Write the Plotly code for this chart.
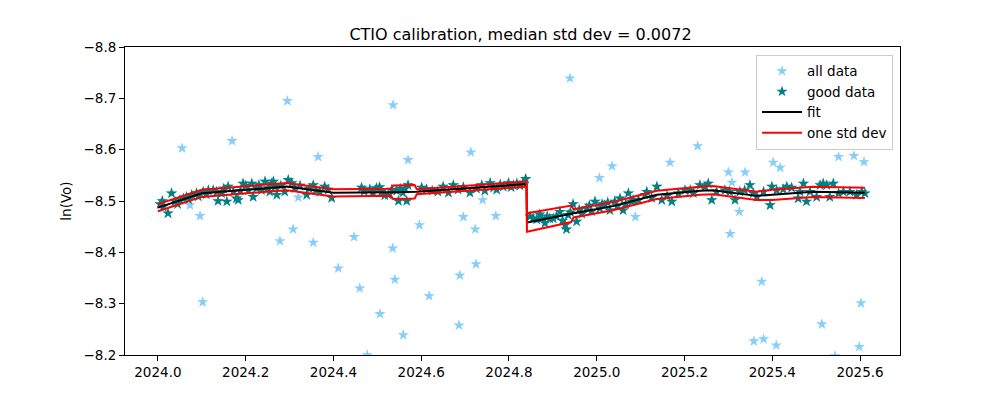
import plotly.graph_objects as go

# ---- data ----
all_x = [2024.055, 2024.169, 2024.295, 2024.536, 2024.365, 2024.570, 2024.320, 2024.073, 2024.096,
         2024.278, 2024.308, 2024.354, 2024.447, 2024.535, 2024.411, 2024.460, 2024.540, 2024.506,
         2024.559, 2024.102, 2024.477, 2024.596, 2024.713, 2024.939, 2025.006, 2025.035, 2025.167,
         2025.230, 2024.740, 2024.696, 2024.770, 2024.723, 2024.725, 2024.688, 2024.618, 2024.686,
         2025.088, 2025.300, 2025.338, 2025.308, 2025.325, 2025.304, 2025.402, 2025.418, 2025.551,
         2025.586, 2025.609, 2025.376, 2025.513, 2025.602, 2025.358, 2025.380, 2025.409, 2025.598,
         2025.543]
all_y = [-8.603, -8.617, -8.695, -8.687, -8.586, -8.580, -8.507, -8.492, -8.471,
         -8.422, -8.445, -8.419, -8.430, -8.408, -8.369, -8.330, -8.347, -8.280,
         -8.239, -8.303, -8.200, -8.453, -8.595, -8.739, -8.545, -8.568, -8.575,
         -8.607, -8.502, -8.469, -8.471, -8.445, -8.377, -8.355, -8.315, -8.258,
         -8.469, -8.556, -8.556, -8.536, -8.479, -8.436, -8.575, -8.565, -8.586,
         -8.588, -8.576, -8.343, -8.260, -8.301, -8.227, -8.231, -8.219, -8.216,
         -8.198]

good_x = [2024.005, 2024.010, 2024.012, 2024.023, 2024.031, 2024.039, 2024.045, 2024.050, 2024.058,
          2024.065, 2024.070, 2024.077, 2024.088, 2024.092, 2024.103, 2024.110, 2024.115, 2024.126,
          2024.134, 2024.137, 2024.145, 2024.150, 2024.157, 2024.160, 2024.172, 2024.179, 2024.183,
          2024.188, 2024.194, 2024.200, 2024.206, 2024.214, 2024.217, 2024.225, 2024.230, 2024.236,
          2024.244, 2024.251, 2024.255, 2024.259, 2024.263, 2024.267, 2024.271, 2024.280, 2024.289,
          2024.297, 2024.305, 2024.312, 2024.324, 2024.339, 2024.345, 2024.354, 2024.360, 2024.369,
          2024.380, 2024.388, 2024.396,
          2024.464, 2024.470, 2024.483, 2024.490, 2024.498, 2024.505, 2024.510, 2024.517, 2024.525,
          2024.533, 2024.544, 2024.548, 2024.552, 2024.558, 2024.563, 2024.567, 2024.570,
          2024.601, 2024.612, 2024.625, 2024.638, 2024.650, 2024.662, 2024.673, 2024.684, 2024.696,
          2024.711, 2024.726, 2024.738, 2024.745, 2024.757, 2024.765, 2024.772, 2024.780, 2024.787,
          2024.799, 2024.805, 2024.810, 2024.818, 2024.825, 2024.832, 2024.838,
          2024.848, 2024.855, 2024.863, 2024.870, 2024.875, 2024.882, 2024.887, 2024.893, 2024.901,
          2024.908, 2024.916, 2024.922, 2024.928, 2024.931, 2024.935, 2024.940, 2024.946, 2024.954,
          2024.960, 2024.966, 2024.977, 2024.983, 2024.988, 2024.996, 2025.007, 2025.012, 2025.018,
          2025.025, 2025.030, 2025.041, 2025.047, 2025.053, 2025.060, 2025.066, 2025.072, 2025.080,
          2025.083, 2025.095, 2025.110, 2025.114, 2025.125, 2025.137, 2025.148, 2025.160, 2025.171,
          2025.186, 2025.201, 2025.213, 2025.220, 2025.235, 2025.247, 2025.254, 2025.262, 2025.273,
          2025.292, 2025.303, 2025.315, 2025.326, 2025.337, 2025.349, 2025.357,
          2025.365, 2025.380, 2025.395, 2025.399, 2025.410, 2025.425, 2025.433, 2025.444, 2025.459,
          2025.463, 2025.471, 2025.478, 2025.486, 2025.501, 2025.509, 2025.516, 2025.524, 2025.531,
          2025.539, 2025.551, 2025.562, 2025.577, 2025.592, 2025.604, 2025.611]
good_y = [-8.494, -8.500, -8.489, -8.476, -8.515, -8.499, -8.494, -8.502, -8.505,
          -8.508, -8.503, -8.512, -8.515, -8.509, -8.518, -8.513, -8.521, -8.521,
          -8.518, -8.500, -8.515, -8.524, -8.499, -8.528, -8.518, -8.505, -8.502,
          -8.520, -8.534, -8.530, -8.521, -8.534, -8.508, -8.525, -8.531, -8.521,
          -8.538, -8.525, -8.518, -8.534, -8.538, -8.528, -8.512, -8.530, -8.518,
          -8.541, -8.535, -8.525, -8.530, -8.512, -8.524, -8.531, -8.521, -8.518,
          -8.528, -8.522, -8.506,
          -8.526, -8.519, -8.523, -8.516, -8.525, -8.527, -8.519, -8.511, -8.512,
          -8.522, -8.520, -8.500, -8.524, -8.516, -8.524, -8.500, -8.531,
          -8.526, -8.523, -8.520, -8.518, -8.528, -8.516, -8.531, -8.522, -8.527,
          -8.516, -8.524, -8.531, -8.520, -8.535, -8.526, -8.522, -8.532, -8.528,
          -8.535, -8.527, -8.531, -8.534, -8.530, -8.536, -8.543,
          -8.470, -8.466, -8.464, -8.474, -8.466, -8.457, -8.470, -8.466, -8.466,
          -8.470, -8.479, -8.462, -8.453, -8.445, -8.473, -8.478, -8.494, -8.460,
          -8.483, -8.475, -8.486, -8.491, -8.480, -8.499, -8.486, -8.494, -8.492,
          -8.497, -8.482, -8.499, -8.490, -8.505, -8.482, -8.494, -8.515, -8.499,
          -8.502, -8.502, -8.512, -8.518, -8.506, -8.528, -8.502, -8.510, -8.499,
          -8.515, -8.521, -8.521, -8.515, -8.531, -8.528, -8.534, -8.502, -8.518,
          -8.521, -8.518, -8.502, -8.518, -8.521, -8.531, -8.515,
          -8.508, -8.518, -8.492, -8.528, -8.521, -8.523, -8.528, -8.526, -8.505,
          -8.518, -8.534, -8.499, -8.518, -8.508, -8.531, -8.534, -8.531, -8.508,
          -8.534, -8.515, -8.518, -8.518, -8.512, -8.518, -8.515]

fit_x = [2024.000, 2024.100, 2024.293, 2024.400, 2024.531, 2024.536, 2024.585, 2024.590,
         2024.840, 2024.841, 2024.942, 2024.947, 2025.037, 2025.137, 2025.235, 2025.265,
         2025.364, 2025.400, 2025.493, 2025.611]
fit_y = [-8.487, -8.515, -8.528, -8.516, -8.517, -8.517, -8.518, -8.518,
         -8.533, -8.458, -8.475, -8.476, -8.490, -8.512, -8.520, -8.521,
         -8.510, -8.512, -8.518, -8.516]
fit_std = [0.007, 0.007, 0.007, 0.007, 0.007, 0.013, 0.013, 0.005,
           0.005, 0.018, 0.016, 0.008, 0.008, 0.008, 0.008, 0.008,
           0.008, 0.010, 0.010, 0.010]

upper = [f + s for f, s in zip(fit_y, fit_std)]
lower = [f - s for f, s in zip(fit_y, fit_std)]

x_ticks = [2024.0, 2024.2, 2024.4, 2024.6, 2024.8, 2025.0, 2025.2, 2025.4, 2025.6]
y_ticks = [-8.8, -8.7, -8.6, -8.5, -8.4, -8.3, -8.2]

title = "CTIO calibration, median std dev = 0.0072"

fig = go.Figure()
fig.add_trace(go.Scatter(x=all_x + good_x, y=all_y + good_y, mode="markers", name="all data",
                         marker=dict(symbol="star", size=8.5, color="#87CEFA", line=dict(width=0))))
fig.add_trace(go.Scatter(x=good_x, y=good_y, mode="markers", name="good data",
                         marker=dict(symbol="star", size=8.5, color="#008080", line=dict(width=0))))
fig.add_trace(go.Scatter(x=fit_x, y=fit_y, mode="lines", name="fit",
                         line=dict(color="black", width=2)))
fig.add_trace(go.Scatter(x=fit_x + [None] + fit_x, y=upper + [None] + lower, mode="lines",
                         name="one std dev", line=dict(color="red", width=2)))

axis_common = dict(showline=True, linecolor="black", linewidth=1, mirror=True, ticks="outside",
                   ticklen=5, tickcolor="black", showgrid=False, zeroline=False,
                   tickfont=dict(family="DejaVu Sans", size=13.5, color="black"))
fig.update_xaxes(range=[2023.925, 2025.691], tickvals=x_ticks,
                 ticktext=[f"{v:.1f}" for v in x_ticks], **axis_common)
fig.update_yaxes(range=[-8.2, -8.8], tickvals=y_ticks,
                 ticktext=["\u2212" + f"{abs(v):.1f}" for v in y_ticks],
                 title=dict(text="ln(Vo)", font=dict(family="DejaVu Sans", size=13.5, color="black"),
                            standoff=8),
                 **axis_common)
fig.update_layout(
    width=1000, height=400,
    margin=dict(l=117, r=108, t=39, b=53),
    paper_bgcolor="white", plot_bgcolor="white",
    title=dict(text=title, x=0.5125, xanchor="center", y=0.935, yanchor="middle",
               font=dict(family="DejaVu Sans", size=16, color="black")),
    font=dict(family="DejaVu Sans", color="black"),
    legend=dict(x=0.991, y=0.975, xanchor="right", yanchor="top",
                bgcolor="rgba(255,255,255,0.8)", bordercolor="#cccccc", borderwidth=1,
                font=dict(family="DejaVu Sans", size=13.5, color="black"),
                itemwidth=40, tracegroupgap=0),
    showlegend=True,
)
fig.write_html("out.html")
